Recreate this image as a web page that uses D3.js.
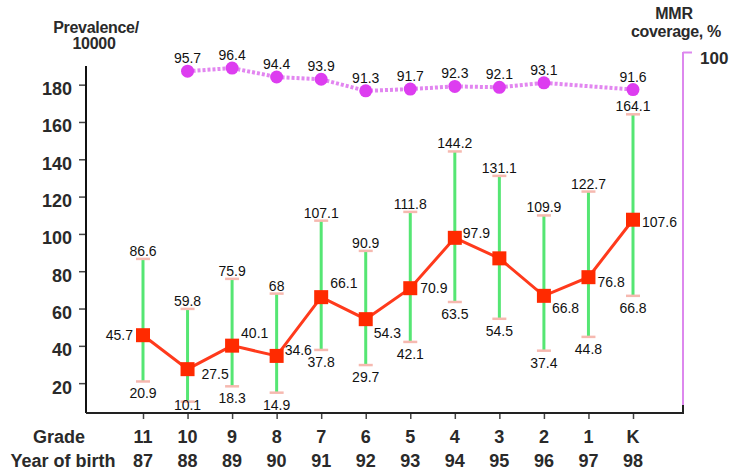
<!DOCTYPE html>
<html>
<head>
<meta charset="utf-8">
<script src="https://cdn.jsdelivr.net/npm/d3@7"></script>
<style>
  html, body { margin: 0; padding: 0; background: #fff; }
  svg { display: block; font-family: "Liberation Sans", Arial, sans-serif; }
</style>
</head>
<body>
<svg id="chart" width="730" height="472"></svg>
<script>
// ---- data ----
const grades = ["11", "10", "9", "8", "7", "6", "5", "4", "3", "2", "1", "K"];
const years = ["87", "88", "89", "90", "91", "92", "93", "94", "95", "96", "97", "98"];
const prevalence = [45.7, 27.5, 40.1, 34.6, 66.1, 54.3, 70.9, 97.9, 86.9, 66.8, 76.8, 107.6];
const prevalenceLabels = ["45.7", "27.5", "40.1", "34.6", "66.1", "54.3", "70.9", "97.9", "", "66.8", "76.8", "107.6"];
const lowerCI = [20.9, 10.1, 18.3, 14.9, 37.8, 29.7, 42.1, 63.5, 54.5, 37.4, 44.8, 66.8];
const upperCI = [86.6, 59.8, 75.9, 68, 107.1, 90.9, 111.8, 144.2, 131.1, 109.9, 122.7, 164.1];
const mmrYears = ["88", "89", "90", "91", "92", "93", "94", "95", "96", "98"];
const mmrCoverage = [95.7, 96.4, 94.4, 93.9, 91.3, 91.7, 92.3, 92.1, 93.1, 91.6];
const leftTicks = [20, 40, 60, 80, 100, 120, 140, 160, 180];
const rightTicks = [100];

// ---- layout ----
const svg = d3.select("#chart");
const xLeft = 86, xRight = 683, yBottom = 413, yTop = 66;

const x = d3.scalePoint().domain(years).range([143, 633]);
const y = d3.scaleLinear().domain([4, 190]).range([yBottom, yTop]);
const yR = d3.scaleLinear().domain([19.2, 100]).range([yBottom, 52]);

const rows = years.map((yr, i) => ({
  yr, g: grades[i], v: prevalence[i], lab: prevalenceLabels[i], lo: lowerCI[i], hi: upperCI[i]
}));
const mmrRows = mmrYears.map((yr, i) => ({ yr, v: mmrCoverage[i] }));

// ---- left axis ----
const leftAxis = d3.axisLeft(y).tickValues(leftTicks).tickSize(7).tickPadding(7).tickFormat(d3.format("d"));
const gL = svg.append("g").attr("transform", `translate(${xLeft},0)`).call(leftAxis);
gL.select(".domain").remove();
gL.selectAll(".tick line").attr("stroke", "#444").attr("stroke-width", 1.5);
gL.selectAll(".tick text").attr("font-size", 18).attr("font-weight", "bold").attr("fill", "#2a2a2a")
  .attr("font-family", "Liberation Sans, Arial, sans-serif").attr("dy", "0.55em");
svg.append("line").attr("x1", xLeft).attr("x2", xLeft).attr("y1", yTop).attr("y2", yBottom)
  .attr("stroke", "#111").attr("stroke-width", 2);

// ---- right axis ----
const rightAxis = d3.axisRight(yR).tickValues(rightTicks).tickSize(9).tickPadding(8).tickFormat(d3.format("d"));
const gR = svg.append("g").attr("transform", `translate(${xRight},0)`).call(rightAxis);
gR.select(".domain").remove();
gR.selectAll(".tick line").attr("stroke", "#dd88ee").attr("stroke-width", 2);
gR.selectAll(".tick text").attr("font-size", 17).attr("font-weight", "bold").attr("fill", "#2a2a2a")
  .attr("font-family", "Liberation Sans, Arial, sans-serif").attr("dy", "0.7em");
svg.append("line").attr("x1", xRight).attr("x2", xRight).attr("y1", yR(100)).attr("y2", yBottom - 4)
  .attr("stroke", "#dd88ee").attr("stroke-width", 2);

// ---- bottom axis ----
const bottomAxis = d3.axisBottom(x).tickSize(6).tickFormat("");
const gB = svg.append("g").attr("transform", `translate(0,${yBottom})`).call(bottomAxis);
gB.select(".domain").remove();
gB.selectAll(".tick line").attr("stroke", "#444").attr("stroke-width", 1.5);
svg.append("path").attr("d", `M${xLeft},${yBottom}H${xRight}V${yBottom - 8}`)
  .attr("fill", "none").attr("stroke", "#222").attr("stroke-width", 2);

const labelStyle = sel => sel.attr("font-size", 18).attr("font-weight", "bold").attr("fill", "#2a2a2a")
  .attr("text-anchor", "middle");
svg.append("g").selectAll("text").data(rows).join("text")
  .attr("x", d => x(d.yr)).attr("y", 443).text(d => d.g).call(labelStyle);
svg.append("g").selectAll("text").data(rows).join("text")
  .attr("x", d => x(d.yr)).attr("y", 467).text(d => d.yr).call(labelStyle);
svg.append("text").attr("x", 59).attr("y", 443).text("Grade").call(labelStyle);
svg.append("text").attr("x", 63).attr("y", 467).text("Year of birth").call(labelStyle);

// ---- titles ----
const titleStyle = sel => sel.attr("font-size", 16).attr("font-weight", "bold").attr("fill", "#2a2a2a")
  .attr("text-anchor", "middle").attr("letter-spacing", "-0.3");
svg.append("text").attr("x", 96).attr("y", 33).text("Prevalence/").call(titleStyle);
svg.append("text").attr("x", 94).attr("y", 49).text("10000").call(titleStyle);
svg.append("text").attr("x", 674).attr("y", 19).text("MMR").call(titleStyle);
svg.append("text").attr("x", 676).attr("y", 37).text("coverage, %").call(titleStyle);

// ---- error bars ----
const eb = svg.append("g");
eb.selectAll("line.bar").data(rows).join("line").attr("class", "bar")
  .attr("x1", d => x(d.yr)).attr("x2", d => x(d.yr))
  .attr("y1", d => y(d.lo)).attr("y2", d => y(d.hi))
  .attr("stroke", "#55e673").attr("stroke-width", 3);
const caps = rows.flatMap(d => [{ yr: d.yr, v: d.lo }, { yr: d.yr, v: d.hi }]);
eb.selectAll("line.cap").data(caps).join("line").attr("class", "cap")
  .attr("x1", d => x(d.yr) - 7).attr("x2", d => x(d.yr) + 7)
  .attr("y1", d => y(d.v)).attr("y2", d => y(d.v))
  .attr("stroke", "#f6b9b0").attr("stroke-width", 2.5);

// ---- MMR line ----
const mmrLine = d3.line().x(d => x(d.yr)).y(d => yR(d.v));
svg.append("path").datum(mmrRows).attr("d", mmrLine)
  .attr("fill", "none").attr("stroke", "#e286f0").attr("stroke-width", 4)
  .attr("stroke-dasharray", "3,2");
svg.append("g").selectAll("circle").data(mmrRows).join("circle")
  .attr("cx", d => x(d.yr)).attr("cy", d => yR(d.v)).attr("r", 6.5)
  .attr("fill", "#dd3df0");

// ---- prevalence line ----
const pLine = d3.line().x(d => x(d.yr)).y(d => y(d.v));
svg.append("path").datum(rows).attr("d", pLine)
  .attr("fill", "none").attr("stroke", "#ff3a1c").attr("stroke-width", 3);
svg.append("g").selectAll("rect").data(rows).join("rect")
  .attr("x", d => x(d.yr) - 7).attr("y", d => y(d.v) - 7)
  .attr("width", 14).attr("height", 14).attr("fill", "#ff2a00");

// ---- data labels ----
const dl = sel => sel.attr("font-size", 14).attr("fill", "#111");
svg.append("g").selectAll("text").data(rows).join("text")
  .attr("x", d => x(d.yr)).attr("y", d => y(d.hi) - 3)
  .attr("text-anchor", "middle").text(d => String(d.hi)).call(dl);
svg.append("g").selectAll("text").data(rows).join("text")
  .attr("x", d => x(d.yr)).attr("y", d => Math.min(y(d.lo) + 17, 410))
  .attr("text-anchor", "middle").text(d => String(d.lo)).call(dl);

// placement of value labels around each square: [dx, dy, anchor]
const place = [[-10, 5, "end"], [14, 10, "start"], [9, -8, "start"], [8, -1, "start"],
  [9, -9, "start"], [8, 19, "start"], [10, 5, "start"], [8, 0, "start"],
  [9, 5, "start"], [8, 17, "start"], [9, 10, "start"], [9, 7, "start"]];
svg.append("g").selectAll("text").data(rows).join("text")
  .attr("x", (d, i) => x(d.yr) + place[i][0]).attr("y", (d, i) => y(d.v) + place[i][1])
  .attr("text-anchor", (d, i) => place[i][2]).text(d => d.lab).call(dl);

svg.append("g").selectAll("text").data(mmrRows).join("text")
  .attr("x", d => x(d.yr)).attr("y", d => yR(d.v) - 8)
  .attr("text-anchor", "middle").text(d => d.v.toFixed(1)).call(dl);
</script>
</body>
</html>
